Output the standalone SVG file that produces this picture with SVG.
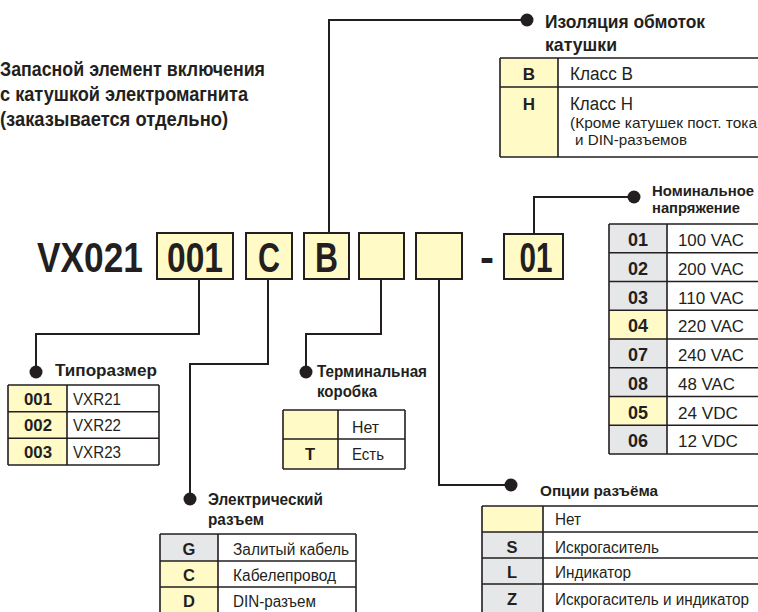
<svg xmlns="http://www.w3.org/2000/svg" width="758" height="612" viewBox="0 0 758 612">
<style>
text{font-family:"Liberation Sans",Arial,sans-serif;fill:#231f20}
.b{font-weight:bold}
.big{font-size:42px;font-weight:bold}
.c{font-weight:bold;text-anchor:middle}
.box{fill:#fffac6;stroke:#231f20;stroke-width:2}
.y{fill:#fffac6}
.g{fill:#e6e7e8}
.w{fill:#fff}
.grid{fill:none;stroke:#231f20;stroke-width:1.6}
.ln{fill:none;stroke:#231f20;stroke-width:2}
.dot{fill:#231f20}
</style>
<rect width="758" height="612" fill="#fff"/>

<g id="title">
<text class="b" x="0" y="76" font-size="21" textLength="265" lengthAdjust="spacingAndGlyphs">Запасной элемент включения</text>
<text class="b" x="0" y="101" font-size="21" textLength="248" lengthAdjust="spacingAndGlyphs">с катушкой электромагнита</text>
<text class="b" x="0" y="126" font-size="21" textLength="228" lengthAdjust="spacingAndGlyphs">(заказывается отдельно)</text>
</g>

<g id="code">
<text class="big" x="37" y="272" textLength="106" lengthAdjust="spacingAndGlyphs">VX021</text>
<rect class="box" x="157" y="233" width="76" height="46"/>
<text class="big" x="195" y="272" text-anchor="middle" textLength="56" lengthAdjust="spacingAndGlyphs">001</text>
<rect class="box" x="246" y="233" width="46" height="46"/>
<text class="big" x="269" y="272" text-anchor="middle" textLength="22" lengthAdjust="spacingAndGlyphs">C</text>
<rect class="box" x="304" y="233" width="45" height="46"/>
<text class="big" x="326.5" y="272" text-anchor="middle" textLength="23" lengthAdjust="spacingAndGlyphs">B</text>
<rect class="box" x="359" y="233" width="45" height="46"/>
<rect class="box" x="416" y="233" width="46" height="46"/>
<text class="big" x="480" y="272">-</text>
<rect class="box" x="504" y="234" width="59" height="45"/>
<text class="big" x="536" y="272" text-anchor="middle" textLength="33" lengthAdjust="spacingAndGlyphs">01</text>
</g>

<g id="connectors">
<polyline class="ln" points="329,233 329,20 527,20"/>
<circle class="dot" cx="527" cy="20" r="6.5"/>
<polyline class="ln" points="534,234 534,197 634,197"/>
<circle class="dot" cx="634" cy="197" r="6.5"/>
<polyline class="ln" points="199,279 199,334 36,334 36,372"/>
<circle class="dot" cx="36" cy="372" r="6.5"/>
<polyline class="ln" points="268,279 268,364 190,364 190,499"/>
<circle class="dot" cx="190" cy="499" r="6.5"/>
<polyline class="ln" points="381,279 381,334 306,334 306,372"/>
<circle class="dot" cx="306" cy="372" r="6.5"/>
<polyline class="ln" points="439,279 439,485 511,485"/>
<circle class="dot" cx="511" cy="485" r="6.5"/>
</g>

<g id="insulation">
<text class="b" x="545" y="28" font-size="19" textLength="160" lengthAdjust="spacingAndGlyphs">Изоляция обмоток</text>
<text class="b" x="545" y="51" font-size="19" textLength="72" lengthAdjust="spacingAndGlyphs">катушки</text>
<rect class="y" x="500" y="58" width="58" height="99"/>
<rect class="w" x="558" y="58" width="202" height="99"/>
<path class="grid" d="M500,58H760M500,87H760M500,157H760M500,58V157M558,58V157"/>
<text class="c" x="529" y="80" font-size="17">B</text>
<text class="c" x="529" y="110" font-size="17">H</text>
<text x="570" y="80" font-size="18" textLength="63" lengthAdjust="spacingAndGlyphs">Класс B</text>
<text x="570" y="110" font-size="18" textLength="63" lengthAdjust="spacingAndGlyphs">Класс H</text>
<text x="570" y="128" font-size="14.5" textLength="187" lengthAdjust="spacingAndGlyphs">(Кроме катушек пост. тока</text>
<text x="575" y="145" font-size="14.5" textLength="112" lengthAdjust="spacingAndGlyphs">и DIN-разъемов</text>
</g>

<g id="voltage">
<text class="b" x="652" y="196" font-size="15" textLength="102" lengthAdjust="spacingAndGlyphs">Номинальное</text>
<text class="b" x="652" y="213" font-size="15" textLength="88" lengthAdjust="spacingAndGlyphs">напряжение</text>
<rect class="g" x="609" y="224" width="58" height="230"/>
<rect class="y" x="609" y="310.25" width="58" height="28.75"/>
<rect class="y" x="609" y="396.5" width="58" height="28.75"/>
<rect class="w" x="667" y="224" width="93" height="230"/>
<path class="grid" d="M609,224H760M609,252.75H760M609,281.5H760M609,310.25H760M609,339H760M609,367.75H760M609,396.5H760M609,425.25H760M609,454H760M609,224V454M667,224V454"/>
<text class="c" x="638" y="246" font-size="17.5" textLength="20" lengthAdjust="spacingAndGlyphs">01</text>
<text class="c" x="638" y="274.75" font-size="17.5" textLength="20" lengthAdjust="spacingAndGlyphs">02</text>
<text class="c" x="638" y="303.5" font-size="17.5" textLength="20" lengthAdjust="spacingAndGlyphs">03</text>
<text class="c" x="638" y="332.25" font-size="17.5" textLength="20" lengthAdjust="spacingAndGlyphs">04</text>
<text class="c" x="638" y="361" font-size="17.5" textLength="20" lengthAdjust="spacingAndGlyphs">07</text>
<text class="c" x="638" y="389.75" font-size="17.5" textLength="20" lengthAdjust="spacingAndGlyphs">08</text>
<text class="c" x="638" y="418.5" font-size="17.5" textLength="20" lengthAdjust="spacingAndGlyphs">05</text>
<text class="c" x="638" y="447.25" font-size="17.5" textLength="20" lengthAdjust="spacingAndGlyphs">06</text>
<text x="678" y="246" font-size="17" textLength="66" lengthAdjust="spacingAndGlyphs">100 VAC</text>
<text x="678" y="274.75" font-size="17" textLength="66" lengthAdjust="spacingAndGlyphs">200 VAC</text>
<text x="678" y="303.5" font-size="17" textLength="66" lengthAdjust="spacingAndGlyphs">110 VAC</text>
<text x="678" y="332.25" font-size="17" textLength="66" lengthAdjust="spacingAndGlyphs">220 VAC</text>
<text x="678" y="361" font-size="17" textLength="66" lengthAdjust="spacingAndGlyphs">240 VAC</text>
<text x="678" y="389.75" font-size="17" textLength="57" lengthAdjust="spacingAndGlyphs">48 VAC</text>
<text x="678" y="418.5" font-size="17" textLength="60" lengthAdjust="spacingAndGlyphs">24 VDC</text>
<text x="678" y="447.25" font-size="17" textLength="60" lengthAdjust="spacingAndGlyphs">12 VDC</text>
</g>

<g id="size">
<text class="b" x="55" y="376" font-size="16.5" textLength="102" lengthAdjust="spacingAndGlyphs">Типоразмер</text>
<rect class="y" x="8" y="385" width="59" height="80"/>
<rect class="w" x="67" y="385" width="92" height="80"/>
<path class="grid" d="M8,385H159M8,411.7H159M8,438.3H159M8,465H159M8,385V465M67,385V465M159,385V465"/>
<text class="c" x="38" y="404.5" font-size="16.5" textLength="28" lengthAdjust="spacingAndGlyphs">001</text>
<text class="c" x="38" y="431.2" font-size="16.5" textLength="28" lengthAdjust="spacingAndGlyphs">002</text>
<text class="c" x="38" y="457.8" font-size="16.5" textLength="28" lengthAdjust="spacingAndGlyphs">003</text>
<text x="73" y="404.5" font-size="16" textLength="48" lengthAdjust="spacingAndGlyphs">VXR21</text>
<text x="73" y="431.2" font-size="16" textLength="48" lengthAdjust="spacingAndGlyphs">VXR22</text>
<text x="73" y="457.8" font-size="16" textLength="48" lengthAdjust="spacingAndGlyphs">VXR23</text>
</g>

<g id="terminal">
<text class="b" x="317" y="377" font-size="16" textLength="110" lengthAdjust="spacingAndGlyphs">Терминальная</text>
<text class="b" x="317" y="397" font-size="16" textLength="60" lengthAdjust="spacingAndGlyphs">коробка</text>
<rect class="y" x="283" y="410" width="55" height="59"/>
<rect class="w" x="338" y="410" width="67" height="59"/>
<path class="grid" d="M283,410H405M283,439H405M283,469H405M283,410V469M338,410V469M405,410V469"/>
<text class="c" x="310" y="459.5" font-size="16.5">T</text>
<text x="352" y="432.5" font-size="16" textLength="27" lengthAdjust="spacingAndGlyphs">Нет</text>
<text x="352" y="459.5" font-size="16" textLength="32" lengthAdjust="spacingAndGlyphs">Есть</text>
</g>

<g id="connector-type">
<text class="b" x="208" y="505" font-size="16" textLength="115" lengthAdjust="spacingAndGlyphs">Электрический</text>
<text class="b" x="208" y="525" font-size="16" textLength="56" lengthAdjust="spacingAndGlyphs">разъем</text>
<rect class="g" x="160" y="534" width="58" height="27"/>
<rect class="y" x="160" y="561" width="58" height="54"/>
<rect class="w" x="218" y="534" width="138" height="81"/>
<path class="grid" d="M160,534H356M160,561H356M160,587H356M160,534V615M218,534V615M356,534V615"/>
<text class="c" x="189" y="555" font-size="16.5">G</text>
<text class="c" x="189" y="581" font-size="16.5">C</text>
<text class="c" x="189" y="607" font-size="16.5">D</text>
<text x="233" y="555" font-size="16" textLength="116" lengthAdjust="spacingAndGlyphs">Залитый кабель</text>
<text x="233" y="581" font-size="16" textLength="103" lengthAdjust="spacingAndGlyphs">Кабелепровод</text>
<text x="233" y="607" font-size="16" textLength="83" lengthAdjust="spacingAndGlyphs">DIN-разъем</text>
</g>

<g id="options">
<text class="b" x="540" y="496" font-size="15.5" textLength="118" lengthAdjust="spacingAndGlyphs">Опции разъёма</text>
<rect class="y" x="482" y="506" width="61" height="26"/>
<rect class="g" x="482" y="532" width="61" height="82"/>
<rect class="w" x="543" y="506" width="217" height="108"/>
<path class="grid" d="M482,506H760M482,532H760M482,558H760M482,584H760M482,506V614M543,506V614"/>
<text class="c" x="512" y="553" font-size="16.5">S</text>
<text class="c" x="512" y="578" font-size="16.5">L</text>
<text class="c" x="512" y="605" font-size="16.5">Z</text>
<text x="555" y="525" font-size="16" textLength="26" lengthAdjust="spacingAndGlyphs">Нет</text>
<text x="555" y="553" font-size="16" textLength="104" lengthAdjust="spacingAndGlyphs">Искрогаситель</text>
<text x="555" y="578" font-size="16" textLength="76" lengthAdjust="spacingAndGlyphs">Индикатор</text>
<text x="555" y="605" font-size="16" textLength="194" lengthAdjust="spacingAndGlyphs">Искрогаситель и индикатор</text>
</g>
</svg>
